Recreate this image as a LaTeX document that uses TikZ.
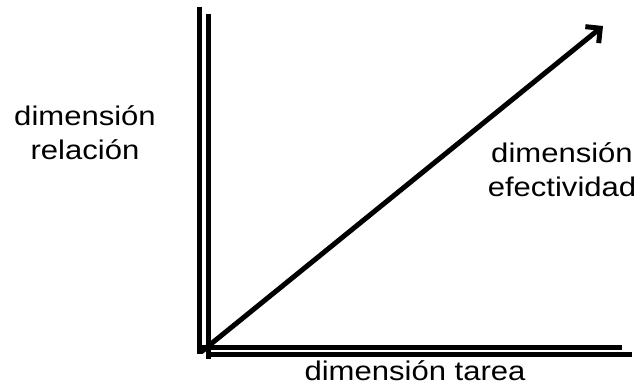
\documentclass[tikz,border=0pt]{standalone}
\usepackage{fontspec}
\setmainfont{Liberation Sans}
\usetikzlibrary{arrows.meta}
\tikzset{
  every picture/.style={line join=miter},
  axis/.style={line width=5pt},
  lbl/.style={align=center, inner sep=0pt, font=\fontsize{27}{34}\selectfont},
}
\newcommand{\wide}[1]{\scalebox{1.15}[1]{#1}}

\begin{document}
\begin{tikzpicture}[x=1pt,y=1pt]
\useasboundingbox (0,0) rectangle (644,386);
% double axes
\coordinate (vtopa) at (199.5,379);
\coordinate (vbota) at (199.5,32);
\coordinate (vtopb) at (208.5,372);
\coordinate (vbotb) at (208.5,27);
\coordinate (hlefta) at (197,39);
\coordinate (hrighta) at (622,39);
\coordinate (hleftb) at (206,31.5);
\coordinate (hrightb) at (632,31.5);
\draw[axis] (vtopa)--(vbota);
\draw[axis] (vtopb)--(vbotb);
\draw[axis] (hlefta)--(hrighta);
\draw[axis] (hleftb)--(hrightb);
% diagonal
\coordinate (origin) at (201,34);
\coordinate (tip) at (603,360);
\draw[axis,-{Straight Barb[angle=90:15pt]}] (origin)--(tip);
% labels
\node[lbl] (relacion) at (85,253) {\wide{dimensión}\\\wide{relación}};
\node[lbl] (efectividad) at (562,216) {\wide{dimensión}\\\wide{efectividad}};
\node[lbl,anchor=base] (tarea) at (415,6) {\wide{dimensión tarea}};
\end{tikzpicture}
\end{document}
